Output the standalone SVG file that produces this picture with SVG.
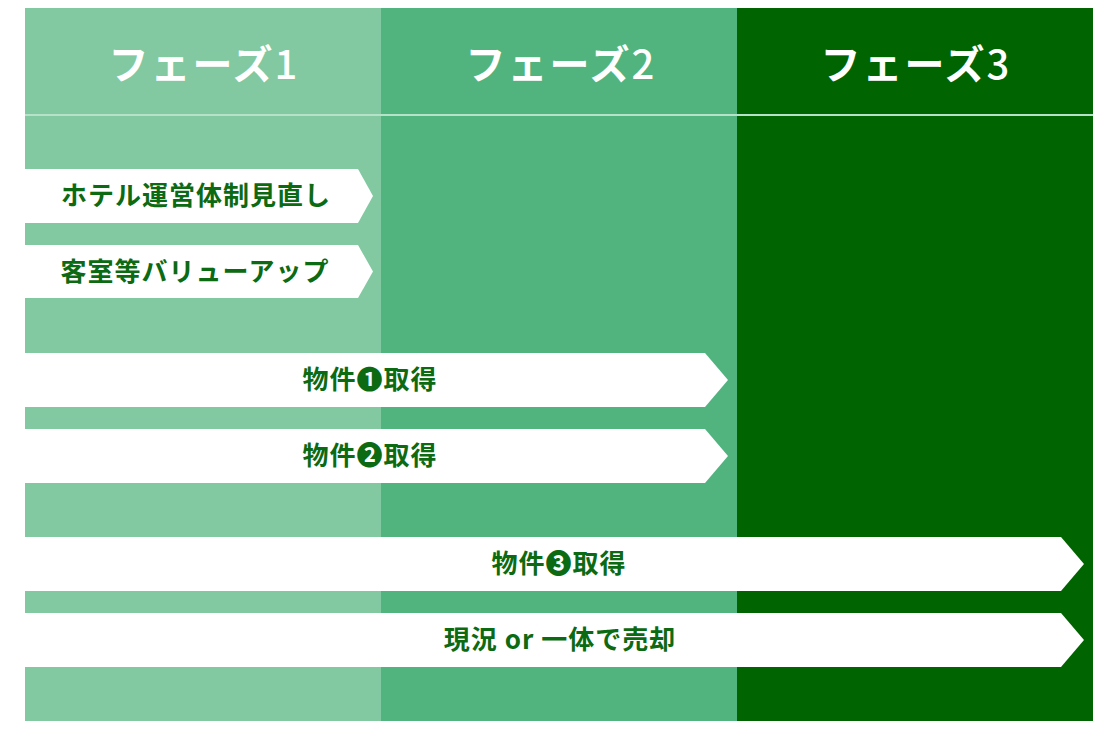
<svg xmlns="http://www.w3.org/2000/svg" width="1107" height="731" viewBox="0 0 1107 731">
<style>
.hd{font-family:"Noto Sans CJK JP","Noto Sans",sans-serif;font-weight:700;font-size:40px;fill:#ffffff;text-anchor:middle;letter-spacing:2px}
.dg{font-weight:500}
.ar{fill:#ffffff}
.lb{font-family:"Noto Sans CJK JP","Noto Sans",sans-serif;font-weight:700;font-size:26px;fill:#0c6a12;text-anchor:middle;letter-spacing:1px}
</style>
<rect width="1107" height="731" fill="#ffffff"/>
<g id="phase1">
<rect x="25" y="8" width="356" height="713" fill="#82c9a1"/>
<text class="hd" x="204" y="79">フェーズ<tspan class="dg">1</tspan></text>
</g>
<g id="phase2">
<rect x="381" y="8" width="356" height="713" fill="#51b47e"/>
<text class="hd" x="561" y="79">フェーズ<tspan class="dg">2</tspan></text>
</g>
<g id="phase3">
<rect x="737" y="8" width="356" height="713" fill="#006400"/>
<text class="hd" x="916" y="79">フェーズ<tspan class="dg">3</tspan></text>
</g>
<g id="divider">
<line x1="25" y1="115" x2="1093" y2="115" stroke="#b5e2c8" stroke-width="2"/>
</g>
<g id="connectors">
<g id="a1">
<polygon class="ar" points="25,169 358,169 373,196 358,223 25,223"/>
<text class="lb" x="196" y="205">ホテル運営体制見直し</text>
</g>
<g id="a2">
<polygon class="ar" points="25,245 358,245 373,271.5 358,298 25,298"/>
<text class="lb" x="195" y="281">客室等バリューアップ</text>
</g>
<g id="a3">
<polygon class="ar" points="25,353 705,353 728,380 705,407 25,407"/>
<text class="lb" x="370" y="389">物件❶取得</text>
</g>
<g id="a4">
<polygon class="ar" points="25,429 705,429 728,456 705,483 25,483"/>
<text class="lb" x="370" y="465">物件❷取得</text>
</g>
<g id="a5">
<polygon class="ar" points="25,537 1061,537 1084,564 1061,591 25,591"/>
<text class="lb" x="559" y="573">物件❸取得</text>
</g>
<g id="a6">
<polygon class="ar" points="25,613 1061,613 1084,640 1061,667 25,667"/>
<text class="lb" x="560" y="649">現況 or 一体で売却</text>
</g>
</g>
</svg>
